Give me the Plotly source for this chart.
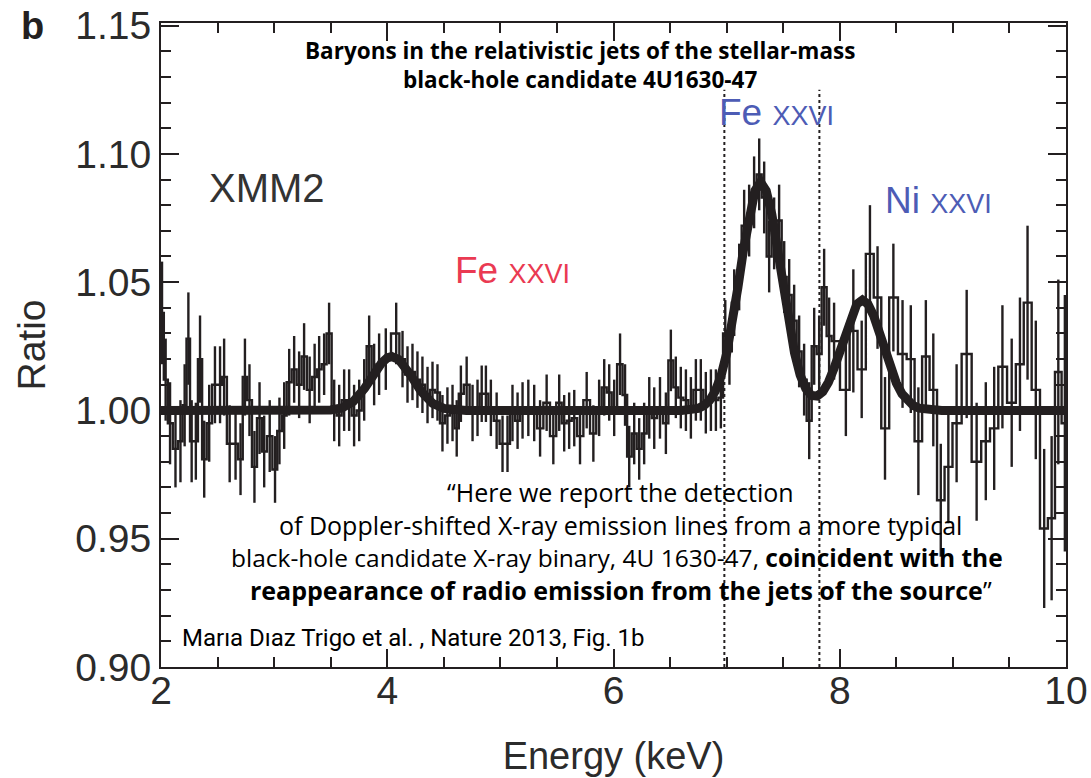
import plotly.graph_objects as go

# ---------------- data ----------------
energy = [
    2.009, 2.041, 2.080, 2.128, 2.172, 2.209, 2.242, 2.271, 2.308, 2.345,
    2.382, 2.426, 2.477, 2.522, 2.558, 2.607, 2.659, 2.703, 2.742, 2.782,
    2.826, 2.871, 2.912, 2.961, 3.008, 3.047, 3.089, 3.133, 3.177, 3.221,
    3.265, 3.314, 3.358, 3.398, 3.442, 3.486, 3.531, 3.575, 3.619, 3.663,
    3.707, 3.752, 3.796, 3.840, 3.884, 3.928, 3.987,
    4.079, 4.135, 4.179, 4.223, 4.267, 4.311, 4.356, 4.400, 4.444, 4.488,
    4.532, 4.577, 4.614, 4.651, 4.702, 4.754, 4.798, 4.835, 4.872, 4.916,
    4.967, 5.019, 5.063, 5.107, 5.152, 5.196, 5.247, 5.299, 5.351, 5.409,
    5.468, 5.520, 5.564, 5.608, 5.653, 5.704, 5.763, 5.822, 5.873, 5.918,
    5.962, 6.006, 6.058, 6.102, 6.139, 6.183, 6.227, 6.271, 6.316, 6.360,
    6.411, 6.463, 6.507, 6.551, 6.595, 6.640, 6.684, 6.728, 6.772, 6.816,
    6.861, 6.905, 6.949,
    6.988, 7.025, 7.067, 7.111, 7.155, 7.199, 7.243, 7.288, 7.332, 7.376,
    7.420, 7.464, 7.509, 7.553, 7.597, 7.641, 7.685, 7.730, 7.774, 7.818,
    7.862, 7.906, 7.950,
    8.054, 8.120, 8.194, 8.267, 8.334, 8.400, 8.474, 8.555, 8.628, 8.695,
    8.761, 8.827, 8.893, 8.960, 9.033, 9.122, 9.210, 9.291, 9.365, 9.438,
    9.520, 9.593, 9.660, 9.733, 9.807, 9.873, 9.932, 9.990,
]
ratio = [
    1.038, 1.012, 0.995, 0.985, 0.988, 1.002, 1.028, 0.988, 0.988, 1.020,
    0.981, 0.995, 1.010, 1.010, 1.013, 0.987, 0.987, 0.981, 1.013, 1.004,
    0.978, 0.997, 0.984, 0.990, 0.977, 0.992, 0.998, 1.011, 1.016, 1.010,
    1.021, 1.008, 1.013, 1.016, 1.018, 1.030, 1.000, 0.998, 1.004, 1.004,
    0.998, 1.000, 1.008, 1.025, 1.014, 1.018, 1.020,
    1.030, 1.020, 1.014, 1.015, 1.012, 1.010, 1.006, 1.008, 1.007, 0.995,
    0.998, 0.999, 0.993, 1.0065, 1.010, 0.999, 1.001, 1.0065, 1.0065, 1.001,
    0.996, 0.987, 0.987, 0.999, 0.996, 1.000, 1.001, 0.999, 0.993, 1.003,
    0.990, 1.003, 0.995, 0.996, 0.997, 0.990, 1.004, 0.991, 1.001, 1.009,
    1.007, 1.001, 1.018, 1.006, 0.982, 0.991, 0.985, 0.991, 1.001, 0.997,
    1.001, 0.995, 1.0195, 1.009, 1.005, 1.004, 1.001, 1.008, 1.008, 1.003,
    1.004, 1.004, 1.005,
    1.030, 1.023, 1.042, 1.052, 1.072, 1.074, 1.085, 1.092, 1.083, 1.060,
    1.069, 1.074, 1.052, 1.045, 1.035, 1.023, 1.012, 0.996, 1.025, 1.022,
    1.048, 1.029, 1.027,
    1.008, 1.031, 1.016, 1.061, 1.044, 0.993, 1.044, 1.022, 1.020, 0.988,
    1.021, 1.008, 0.965, 0.978, 0.995, 1.022, 0.980, 0.988, 0.993, 1.017,
    1.003, 1.018, 1.042, 1.008, 0.954, 0.958, 1.015, 0.995,
]
ratio_err = [
    0.020, 0.016, 0.016, 0.015, 0.016, 0.016, 0.018, 0.016, 0.015, 0.017,
    0.015, 0.015, 0.015, 0.015, 0.015, 0.015, 0.014, 0.014, 0.015, 0.014,
    0.014, 0.014, 0.014, 0.014, 0.013, 0.013, 0.013, 0.013, 0.013, 0.013,
    0.013, 0.013, 0.013, 0.013, 0.012, 0.012, 0.012, 0.012, 0.012, 0.012,
    0.012, 0.012, 0.012, 0.012, 0.012, 0.012, 0.012,
    0.012, 0.011, 0.011, 0.011, 0.011, 0.011, 0.011, 0.011, 0.011, 0.011,
    0.011, 0.011, 0.011, 0.011, 0.011, 0.011, 0.011, 0.011, 0.011, 0.011,
    0.011, 0.011, 0.011, 0.011, 0.011, 0.011, 0.011, 0.011, 0.011, 0.011,
    0.011, 0.011, 0.011, 0.011, 0.011, 0.011, 0.011, 0.011, 0.011, 0.011,
    0.011, 0.011, 0.012, 0.012, 0.012, 0.012, 0.012, 0.012, 0.012, 0.012,
    0.012, 0.012, 0.012, 0.012, 0.012, 0.012, 0.012, 0.012, 0.012, 0.012,
    0.012, 0.012, 0.012,
    0.013, 0.013, 0.013, 0.013, 0.014, 0.014, 0.014, 0.014, 0.014, 0.014,
    0.014, 0.014, 0.014, 0.014, 0.014, 0.014, 0.014, 0.015, 0.015, 0.015,
    0.015, 0.015, 0.015,
    0.018, 0.024, 0.019, 0.019, 0.020, 0.020, 0.021, 0.021, 0.021, 0.021,
    0.022, 0.022, 0.022, 0.022, 0.023, 0.025, 0.023, 0.023, 0.024, 0.024,
    0.025, 0.026, 0.030, 0.027, 0.031, 0.032, 0.036, 0.050,
]

model_energy = [
    2.0, 3.4, 3.5, 3.6, 3.7, 3.8, 3.9, 3.95, 4.0, 4.04, 4.1, 4.15, 4.2, 4.3,
    4.4, 4.5, 4.6, 4.7, 6.6, 6.7, 6.75, 6.8, 6.85, 6.9, 6.95, 7.0, 7.05, 7.1,
    7.15, 7.2, 7.25, 7.3, 7.35, 7.4, 7.45, 7.5, 7.55, 7.6, 7.65, 7.7, 7.75,
    7.8, 7.85, 7.9, 7.95, 8.0, 8.05, 8.1, 8.15, 8.2, 8.25, 8.3, 8.35, 8.4,
    8.45, 8.5, 8.55, 8.6, 8.65, 8.7, 8.8, 8.9, 10.0,
]
model_ratio = [
    1.000, 1.000, 1.0002, 1.001, 1.0035, 1.0086, 1.0155, 1.0185, 1.0205,
    1.021, 1.0199, 1.0174, 1.0142, 1.0074, 1.0028, 1.0008, 1.0001, 1.000,
    1.000, 1.0003, 1.0008, 1.0019, 1.0039, 1.0076, 1.0134, 1.0222, 1.0339,
    1.048, 1.0629, 1.0763, 1.0856, 1.089, 1.0856, 1.0763, 1.0629, 1.048,
    1.034, 1.0224, 1.0138, 1.0085, 1.0058, 1.0056, 1.0073, 1.011, 1.0165,
    1.0232, 1.0304, 1.0369, 1.0414, 1.043, 1.0414, 1.0369, 1.0304, 1.0232,
    1.0164, 1.0107, 1.0065, 1.0037, 1.0019, 1.0009, 1.0002, 1.000, 1.000,
]

line_energies = [6.98, 7.82]        # dotted reference lines (keV)
line_ratio_span = [0.90, 1.125]

x_range = [2, 10]
y_range = [0.90, 1.151]
x_ticks = [2, 4, 6, 8, 10]
y_ticks = [0.90, 0.95, 1.00, 1.05, 1.10, 1.15]
y_ticktext = ["0.90", "0.95", "1.00", "1.05", "1.10", "1.15"]

# ---------------- styling ----------------
INK = "#231f20"
AXIS_TXT = "#2b2b2b"
RED = "#ea3a52"
BLUE = "#4d5cb5"
HELV = "Liberation Sans, Arial, Helvetica, sans-serif"
MYRIAD = "Open Sans, Noto Sans, sans-serif"
NARROW = "Liberation Sans Narrow, Roboto, sans-serif"

fig = go.Figure()

fig.add_trace(go.Scatter(
    x=energy, y=ratio, mode="lines",
    line=dict(shape="hvh", color=INK, width=2.4),
    error_y=dict(type="data", array=ratio_err, visible=True,
                 color=INK, thickness=2.4, width=0),
    hoverinfo="skip",
))

for e in line_energies:
    fig.add_trace(go.Scatter(
        x=[e, e], y=line_ratio_span, mode="lines",
        line=dict(color=INK, width=2, dash="dot"), hoverinfo="skip",
    ))

fig.add_trace(go.Scatter(
    x=model_energy, y=model_ratio, mode="lines",
    line=dict(color=INK, width=9), hoverinfo="skip",
))

axis_common = dict(
    showgrid=False, zeroline=False, showline=True, linewidth=2,
    linecolor=INK, mirror="ticks", ticks="inside", tickwidth=2,
    tickcolor=INK, ticklen=18, automargin=False, ticklabeloverflow="allow",
    tickfont=dict(family=HELV, size=39, color=AXIS_TXT),
)

fig.update_layout(
    width=1091, height=778,
    margin=dict(l=161, r=25, t=23, b=111),
    paper_bgcolor="white", plot_bgcolor="white",
    showlegend=False,
    xaxis=dict(
        range=x_range, tickvals=x_ticks,
        ticklabelstandoff=-12,
        minor=dict(dtick=0.5, ticks="inside", ticklen=10, tickwidth=2,
                   tickcolor=INK),
        title=dict(text="Energy (keV)", standoff=32,
                   font=dict(family=HELV, size=38, color=AXIS_TXT)),
        **axis_common,
    ),
    yaxis=dict(
        range=y_range, tickvals=y_ticks, ticktext=y_ticktext,
        minor=dict(dtick=0.01, ticks="inside", ticklen=10, tickwidth=2,
                   tickcolor=INK),
        title=dict(text="Ratio", standoff=18,
                   font=dict(family=HELV, size=39, color=AXIS_TXT)),
        **axis_common,
    ),
)

annotations = [
    dict(text="<b>b</b>", x=-0.1425, y=1.0310, xref="paper", yref="paper",
         showarrow=False, font=dict(family=HELV, size=38, color=INK),
         xanchor="center", yanchor="top"),
    dict(text="XMM2", x=2.94, y=1.0867, showarrow=False,
         font=dict(family=HELV, size=40, color="#333333"),
         xanchor="center", yanchor="middle"),
    dict(text="Fe <span style='font-size:27px'>XXVI</span>", x=5.11, y=1.0547,
         showarrow=False, font=dict(family=HELV, size=37, color=RED),
         xanchor="center", yanchor="middle"),
    dict(text="Fe <span style='font-size:27px'>XXVI</span>", x=7.44, y=1.116,
         showarrow=False, font=dict(family=HELV, size=37, color=BLUE),
         xanchor="center", yanchor="middle"),
    dict(text="Ni <span style='font-size:27px'>XXVI</span>", x=8.87, y=1.082,
         showarrow=False, font=dict(family=HELV, size=37, color=BLUE),
         xanchor="center", yanchor="middle"),
    dict(text="<b>Baryons in the relativistic jets of the stellar-mass</b>",
         x=0.463, y=0.958, xref="paper", yref="paper", showarrow=False,
         font=dict(family=MYRIAD, size=22.5, color="black"),
         xanchor="center", yanchor="middle"),
    dict(text="<b>black-hole candidate 4U1630-47</b>",
         x=0.463, y=0.913, xref="paper", yref="paper", showarrow=False,
         font=dict(family=MYRIAD, size=22.5, color="black"),
         xanchor="center", yanchor="middle"),
    dict(text="\u201cHere we report the detection",
         x=0.508, y=0.2717, xref="paper", yref="paper", showarrow=False,
         font=dict(family=MYRIAD, size=25, color="black"),
         xanchor="center", yanchor="middle"),
    dict(text="of Doppler-shifted X-ray emission lines from a more typical",
         x=0.508, y=0.2205, xref="paper", yref="paper", showarrow=False,
         font=dict(family=MYRIAD, size=25, color="black"),
         xanchor="center", yanchor="middle"),
    dict(text="black-hole candidate X-ray binary, 4U 1630-47, <b>coincident with the</b>",
         x=0.504, y=0.1708, xref="paper", yref="paper", showarrow=False,
         font=dict(family=MYRIAD, size=24.5, color="black"),
         xanchor="center", yanchor="middle"),
    dict(text="<b>reappearance of radio emission from the jets of the source</b>\u201d",
         x=0.508, y=0.1196, xref="paper", yref="paper", showarrow=False,
         font=dict(family=MYRIAD, size=25, color="black"),
         xanchor="center", yanchor="middle"),
    dict(text="Mar\u0131a D\u0131az Trigo et al. , Nature 2013, Fig. 1b",
         x=0.021, y=0.045, xref="paper", yref="paper", showarrow=False,
         font=dict(family=NARROW, size=24, color="black"),
         xanchor="left", yanchor="middle"),
]
fig.update_layout(annotations=annotations)

# remove the default 8 px page margin so the figure fills the window exactly
fig.write_html(
    "out.html",
    config={"displayModeBar": False},
    post_script="document.body.style.margin='0';",
)
